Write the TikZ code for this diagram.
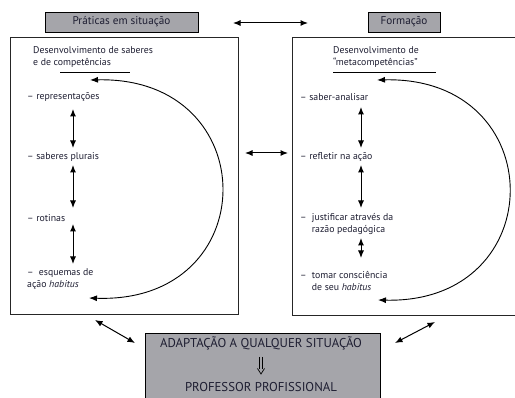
\documentclass[tikz,border=0pt]{standalone}
\usepackage{fontspec}
\setmainfont{PT Sans}
\usetikzlibrary{arrows.meta}
\definecolor{txt}{RGB}{30,30,50}
\definecolor{boxgray}{RGB}{165,165,170}
\begin{document}
\begin{tikzpicture}[x=1pt,y=-1pt,
  lbl/.style={draw=black,line width=0.9pt,fill=boxgray,minimum height=20pt,inner sep=0pt,text=txt,font=\fontsize{11.2}{12}\selectfont},
  frame/.style={draw=black!85,line width=0.9pt},
  item/.style={anchor=west,inner sep=0pt,text=txt,align=left,font=\fontsize{9.8}{12}\selectfont},
  caps/.style={inner sep=0pt,text=txt,font=\fontsize{12.8}{14}\selectfont},
  dbl/.style={{Latex[length=7.5pt,width=6pt]}-{Latex[length=7.5pt,width=6pt]},line width=1pt},
  curv/.style={{Latex[length=8pt,width=6pt]}-{Latex[length=8pt,width=6pt]},line width=0.9pt}]
\useasboundingbox (0,0) rectangle (515,398);
\fill[white] (0,0) rectangle (515,398);
% top labels
\node[lbl,minimum width=153pt] (prat) at (121.5,22) {Práticas em situação};
\node[lbl,minimum width=72pt] (form) at (404,22) {Formação};
\coordinate (ta) at (233,23);
\coordinate (tb) at (308,23);
\draw[dbl] (ta) -- (tb);
% big frames
\draw[frame] (10,37) rectangle (238,314);
\draw[frame] (292,37) -- (520,37) (520,315) -- (292,315) -- (292,37);
\coordinate (ma) at (245,153);
\coordinate (mb) at (288,153);
\draw[dbl] (ma) -- (mb);
% left column
\node[item] (lt) at (33,57.5) {Desenvolvimento de saberes\\e de competências};
\draw[line width=0.9pt] (60,72) -- (130,72);
\node[item] (l1) at (27,97) {– representações};
\node[item] (l2) at (27,157) {– saberes plurais};
\node[item] (l3) at (27,218) {– rotinas};
\node[item] (l4) at (27,279) {–\ \ esquemas de\\ação \textit{habitus}};
\coordinate (la1) at (73,109); \coordinate (lb1) at (73,148);
\coordinate (la2) at (73,165); \coordinate (lb2) at (73,208);
\coordinate (la3) at (73,224); \coordinate (lb3) at (73,264);
\draw[dbl] (la1) -- (lb1);
\draw[dbl] (la2) -- (lb2);
\draw[dbl] (la3) -- (lb3);
\coordinate (lc1) at (90,80); \coordinate (lc2) at (89,298);
\draw[curv] (lc1) .. controls (265,76) and (265,304) .. (lc2);
% right column
\node[item] (rt) at (333,57.5) {Desenvolvimento de\\“metacompetências”};
\draw[line width=0.9pt] (333,72) -- (436,72);
\node[item] (r1) at (300,97) {– saber-analisar};
\node[item] (r2) at (300,157) {– refletir na ação};
\node[item] (r3) at (300,224) {–\ \ justificar através da\\\hphantom{–\ \ }razão pedagógica};
\node[item] (r4) at (300,281) {–\ \ tomar consciência\\\hphantom{–\ \ }de seu \textit{habitus}};
\coordinate (ra1) at (361,107); \coordinate (rb1) at (361,148);
\coordinate (ra2) at (361,165); \coordinate (rb2) at (361,208);
\coordinate (ra3) at (361,238); \coordinate (rb3) at (361,258);
\draw[dbl] (ra1) -- (rb1);
\draw[dbl] (ra2) -- (rb2);
\draw[dbl] (ra3) -- (rb3);
\coordinate (rc1) at (377,80); \coordinate (rc2) at (378,300);
\draw[curv] (rc1) .. controls (552,76) and (552,304) .. (rc2);
% bottom box
\draw[draw=black,line width=0.9pt,fill=boxgray] (145,333) rectangle (380,405);
\node[caps] (ad) at (261,343) {ADAPTAÇÃO A QUALQUER SITUAÇÃO};
\node[caps] (pp) at (261,387) {PROFESSOR PROFISSIONAL};
\draw[line width=0.7pt] (259.3,357) -- (259.3,369) (262.7,357) -- (262.7,369);
\draw[line width=0.7pt,line join=miter] (257.5,368.5) -- (261,374) -- (264.5,368.5);
\coordinate (da1) at (95,320); \coordinate (db1) at (135,343);
\coordinate (da2) at (435,322); \coordinate (db2) at (395,343);
\draw[dbl] (da1) -- (db1);
\draw[dbl] (da2) -- (db2);
\end{tikzpicture}
\end{document}
